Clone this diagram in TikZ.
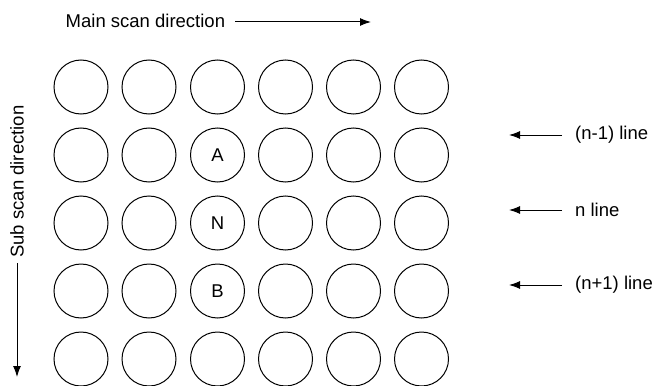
\documentclass[tikz,border=0pt]{standalone}
\usepackage{fontspec}
\setmainfont{Liberation Sans}
\usetikzlibrary{arrows.meta}
\begin{document}
\begin{tikzpicture}[x=1pt,y=-1pt,
  dot/.style={circle,draw,line width=1pt,minimum size=54pt,inner sep=0pt,font=\fontsize{18.5}{22}\selectfont},
  lbl/.style={inner sep=0pt,font=\fontsize{18.5}{22}\selectfont},
  arr/.style={line width=1pt,-{Latex[length=11pt,width=8pt]}}]
\useasboundingbox (0,0) rectangle (655,385);
\foreach \r/\y in {1/87,2/155,3/223,4/291,5/359}{
  \foreach \c/\x in {1/81,2/149,3/217.5,4/285.5,5/353.5,6/421.5}{
    \node[dot] (c\r\c) at (\x,\y) {};
  }
}
\node[lbl] at (c23) {A};
\node[lbl] at (c33) {N};
\node[lbl] at (c43) {B};
\node[lbl,anchor=west] (main) at (65.5,21) {Main scan direction};
\coordinate (mainend) at (371,22);
\draw[arr] ([xshift=10pt,yshift=-1pt]main.east) -- (mainend);
\node[lbl,rotate=90,anchor=west] (sub) at (17,258) {Sub scan direction};
\coordinate (subend) at (17,377);
\draw[arr] ([yshift=-5pt]sub.west) -- (subend);
\node[lbl,anchor=west] (l1) at (575,135) {(n-1) line};
\node[lbl,anchor=west] (l2) at (575,210) {n line};
\node[lbl,anchor=west] (l3) at (575,285) {(n+1) line};
\coordinate (a1) at (509,135);
\coordinate (a2) at (509,210);
\coordinate (a3) at (509,285);
\draw[arr] ([xshift=-13pt]l1.west) -- (a1);
\draw[arr] ([xshift=-13pt]l2.west) -- (a2);
\draw[arr] ([xshift=-13pt]l3.west) -- (a3);
\end{tikzpicture}
\end{document}
